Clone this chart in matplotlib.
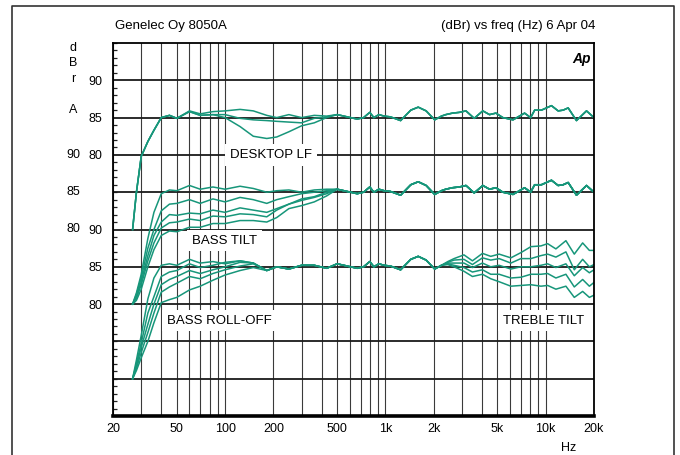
import numpy as np
import matplotlib
matplotlib.use('Agg')
import matplotlib.pyplot as plt
from matplotlib.lines import Line2D
from matplotlib.ticker import FixedLocator, FixedFormatter, LogLocator, MultipleLocator, NullFormatter
import matplotlib.transforms as mtransforms

plt.rcParams['font.family'] = ['Liberation Sans', 'DejaVu Sans']

# === Data (dBr vs Hz) ===

# bass region, shared frequency grid
bass_hz = [26.5, 28, 30, 33, 36, 40, 45, 50, 60, 70, 84, 100, 124, 150, 182, 210, 250, 300, 360, 430]

# DESKTOP LF
desk_1 = [70, 75, 79.8, 81.8, 83.3, 85.0, 85.3, 84.9, 85.9, 85.5, 85.8, 85.9, 86.1, 85.9, 85.3, 85.0, 85.4, 85.0, 85.3, 85.2]
desk_2 = [70, 75, 79.8, 81.8, 83.3, 85.0, 85.3, 84.9, 85.8, 85.3, 85.4, 85.4, 84.9, 84.7, 84.6, 84.5, 84.4, 84.3, 84.9, 85.1]
desk_3 = [70, 75, 79.8, 81.8, 83.3, 85.0, 85.3, 84.9, 85.8, 85.3, 85.4, 85.0, 83.8, 82.5, 82.2, 82.4, 83.1, 83.9, 84.3, 85.0]

# BASS TILT
tilt_1 = [70, 71.5, 74.0, 78.8, 82.3, 84.8, 85.3, 85.2, 85.9, 85.4, 85.7, 85.4, 85.8, 85.5, 85.0, 85.2, 85.3, 85.0, 85.3, 85.4]
tilt_2 = [70, 71.3, 73.5, 77.5, 80.0, 82.5, 83.4, 83.5, 84.0, 83.5, 84.1, 83.7, 84.3, 84.0, 83.5, 84.0, 84.4, 84.8, 85.0, 85.2]
tilt_3 = [70, 71.0, 73.0, 76.5, 79.2, 81.0, 82.0, 81.9, 82.2, 82.1, 82.6, 82.3, 82.9, 82.6, 82.3, 82.8, 83.4, 84.1, 84.4, 85.0]
tilt_4 = [70, 70.8, 72.6, 75.8, 78.2, 80.2, 80.9, 81.0, 81.4, 81.2, 81.8, 81.7, 82.1, 82.0, 81.7, 82.6, 83.4, 83.9, 84.3, 84.8]
tilt_5 = [70, 70.5, 72.0, 75.0, 77.3, 79.2, 79.8, 79.7, 80.3, 80.3, 80.8, 80.8, 81.2, 81.2, 81.0, 81.6, 82.8, 83.2, 83.7, 84.5]

# BASS ROLL-OFF
roll_1 = [70, 72.5, 75.8, 80.7, 83.5, 85.2, 85.4, 85.2, 86.0, 85.5, 85.7, 85.4, 85.8, 85.5, 84.5, 85.0, 84.7, 85.2, 85.2, 84.8]
roll_2 = [70, 72.0, 74.8, 78.8, 81.0, 83.7, 84.3, 84.5, 85.4, 84.9, 85.2, 85.6, 85.8, 85.5, 84.5, 85.0, 84.7, 85.2, 85.2, 84.8]
roll_3 = [70, 71.7, 74.2, 77.3, 80.0, 82.6, 83.3, 83.7, 84.5, 84.1, 84.6, 85.0, 85.6, 85.5, 84.5, 85.0, 84.7, 85.2, 85.2, 84.8]
roll_4 = [70, 71.4, 73.5, 76.2, 78.8, 81.6, 82.3, 82.8, 83.7, 83.4, 84.1, 84.6, 85.1, 85.4, 84.5, 85.0, 84.7, 85.2, 85.2, 84.8]
roll_5 = [70, 71.1, 72.8, 75.0, 77.5, 80.2, 80.6, 80.9, 81.9, 82.4, 83.2, 83.9, 84.5, 84.9, 84.5, 85.0, 84.7, 85.2, 85.2, 84.8]

# midrange, common to all curves
mid_hz = [500, 525, 606, 667, 731, 799, 847, 910, 980, 1075, 1244, 1440, 1602, 1795, 2030, 2236]
mid_db = [85.4, 85.3, 85.0, 84.8, 85.0, 85.7, 85.0, 85.4, 85.2, 85.1, 84.6, 86.0, 86.4, 85.9, 84.7, 85.2]

# treble, flat setting (DESKTOP LF and BASS TILT)
ref_hz = [2380, 2620, 2890, 3180, 3580, 4050, 4460, 4890, 5400, 6250, 7380, 8050, 8530, 9400,
          10860, 11950, 12840, 13800, 15550, 17960, 20000]
ref_db = [85.4, 85.6, 85.7, 85.9, 84.9, 85.9, 85.4, 85.6, 85.0, 84.7, 85.6, 85.0, 86.0, 86.0,
          86.6, 85.9, 86.0, 86.3, 84.6, 85.9, 85.0]

# TREBLE TILT
treble_hz = [2450, 2680, 3090, 3490, 4030, 4540, 5120, 6060, 7000, 8080, 9330, 10280, 11570,
             13360, 15070, 16990, 18710, 20000]
treb_1 = [85.7, 86.1, 86.6, 85.8, 86.8, 86.4, 86.7, 86.2, 86.9, 87.7, 87.8, 88.1, 87.4, 88.5, 86.7, 88.2, 87.2, 87.2]
treb_2 = [85.6, 85.9, 86.0, 85.3, 86.2, 85.9, 86.1, 85.5, 86.1, 86.1, 86.5, 86.7, 86.3, 87.0, 84.6, 86.0, 85.0, 85.3]
treb_3 = [85.5, 85.5, 85.5, 84.9, 85.5, 85.0, 85.2, 84.7, 85.0, 85.0, 85.2, 85.4, 84.9, 85.4, 83.8, 84.9, 84.2, 84.6]
treb_4 = [85.4, 85.2, 84.9, 84.3, 84.6, 84.0, 84.0, 83.5, 83.6, 84.0, 84.0, 84.1, 83.5, 84.0, 82.3, 83.3, 82.4, 82.9]
treb_5 = [85.3, 85.0, 84.4, 83.7, 84.0, 83.4, 83.0, 82.4, 82.5, 82.6, 82.4, 82.5, 82.0, 82.4, 80.9, 81.7, 80.9, 81.2]

x_ticks = [20, 50, 100, 200, 500, 1000, 2000, 5000, 10000, 20000]
x_labels = ['20', '50', '100', '200', '500', '1k', '2k', '5k', '10k', '20k']

# === Figure ===

GREEN = '#17967a'
fig = plt.figure(figsize=(6.8, 4.55), dpi=100)
ax = fig.add_axes([113 / 680, 39 / 455, 481 / 680, 373 / 455])

# each family of curves is stacked on the chart with its own vertical shift
groups = [
    (45, [desk_1, desk_2, desk_3], [ref_hz] * 3, [ref_db] * 3),
    (55, [tilt_1, tilt_2, tilt_3, tilt_4, tilt_5], [ref_hz] * 5, [ref_db] * 5),
    (65, [roll_1, roll_2, roll_3, roll_4, roll_5], [treble_hz] * 5, [treb_1, treb_2, treb_3, treb_4, treb_5]),
]
for shift, bass_sets, hi_hz, hi_sets in groups:
    for bass_db, hz_hi, db_hi in zip(bass_sets, hi_hz, hi_sets):
        f = np.array(bass_hz + mid_hz + hz_hi, dtype=float)
        v = np.array(bass_db + mid_db + db_hi, dtype=float) - shift
        ax.plot(f, v, color=GREEN, lw=1.1, solid_joinstyle='round', zorder=2)

ax.set_xscale('log')
ax.set_xlim(20, 20000)
ax.set_ylim(0, 50)

ax.xaxis.set_major_locator(FixedLocator(x_ticks))
ax.xaxis.set_major_formatter(FixedFormatter(x_labels))
ax.xaxis.set_minor_locator(LogLocator(base=10, subs=np.arange(1, 10)))
ax.xaxis.set_minor_formatter(NullFormatter())
ax.tick_params(axis='x', which='both', length=0, pad=5, labelsize=9)

ax.yaxis.set_major_locator(FixedLocator([15, 20, 25, 35, 40, 45]))
ax.yaxis.set_major_formatter(FixedFormatter(['80', '85', '90', '80', '85', '90']))
ax.yaxis.set_minor_locator(MultipleLocator(1))
ax.tick_params(axis='y', which='major', length=0, pad=7.5, labelsize=9)
ax.tick_params(axis='y', which='minor', direction='in', length=3, width=0.9, color='#222222')

# grid
ax.set_axisbelow(True)
ax.grid(True, axis='x', which='both', color='#3a3a3a', lw=0.8)
for yv in range(5, 50, 5):
    ax.axhline(yv, color='#1a1a1a', lw=1.3, zorder=1)

for side in ['top', 'left', 'right']:
    ax.spines[side].set_linewidth(1.3)
ax.spines['bottom'].set_linewidth(2.6)

# outer column of dBr labels (middle family)
trans = mtransforms.blended_transform_factory(ax.transAxes, ax.transData)
for yv, lab in zip([25, 30, 35], ['80', '85', '90']):
    ax.text(-33 / 481, yv, lab, transform=trans, ha='right', va='center', fontsize=9)

# "dBr A" stacked axis caption
for ypx, ch in zip([48, 63, 79, 110], ['d', 'B', 'r', 'A']):
    fig.text(73 / 680, 1 - ypx / 455, ch, ha='center', va='center', fontsize=9)

# curve family labels
box = dict(facecolor='white', edgecolor='none', boxstyle='square,pad=0.35')
for xf, yv, lab, ha in [(230, 35, 'DESKTOP LF', 'left'),
                        (192, 23.5, 'BASS TILT', 'left'),
                        (167, 12.8, 'BASS ROLL-OFF', 'left'),
                        (584, 12.8, 'TREBLE TILT', 'right')]:
    ax.text((xf - 113) / 481, yv, lab, transform=trans, ha=ha, va='center',
            fontsize=9.5, bbox=box, zorder=4)

ax.text(0.993, 0.958, 'Ap', transform=ax.transAxes, ha='right', va='center',
        fontsize=10, fontweight='bold', fontstyle='italic')

# titles
fig.text(115 / 680, 1 - 26 / 455, 'Genelec Oy 8050A', ha='left', va='center', fontsize=9.5)
fig.text(595 / 680, 1 - 26 / 455, '(dBr) vs freq (Hz) 6 Apr 04', ha='right', va='center', fontsize=9.5)
fig.text(569 / 680, 1 - 448 / 455, 'Hz', ha='center', va='center', fontsize=9)

# outer frame (open at the bottom)
fig.add_artist(Line2D([12 / 680, 12 / 680, 674 / 680, 674 / 680], [-0.1, 1 - 6 / 455, 1 - 6 / 455, -0.1],
                      transform=fig.transFigure, color='#333333', lw=1.2))

fig.savefig('out.png', dpi=100, facecolor='white')
